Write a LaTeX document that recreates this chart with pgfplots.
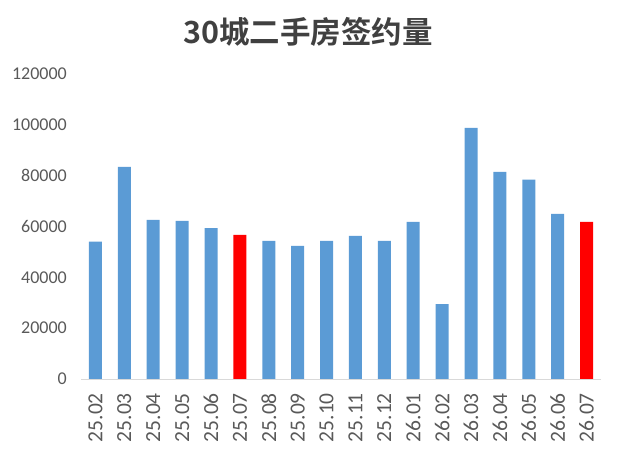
\documentclass[border=0pt]{standalone}
\usepackage{pgfplots}
\pgfplotsset{compat=1.18}
\usepackage{fontspec}
\setmainfont{Carlito}
\newfontfamily\cjk{Noto Sans CJK SC}[BoldFont={Noto Sans CJK SC Bold}]
\definecolor{barblue}{HTML}{5B9BD5}
\definecolor{barred}{HTML}{FF0000}
\definecolor{txtgray}{HTML}{595959}
\definecolor{titlegray}{HTML}{404040}
\definecolor{axgray}{HTML}{D9D9D9}
\begin{document}
\begin{tikzpicture}
\useasboundingbox (0,0) rectangle (618bp,473bp);
\node[font=\cjk\bfseries\fontsize{30.5bp}{32bp}\selectfont, text=titlegray] at (308bp,441bp) {30城二手房签约量};
\begin{axis}[
  at={(81bp,94bp)}, anchor=south west,
  scale only axis, width=520bp, height=305bp,
  xmin=-0.5, xmax=17.5, ymin=0, ymax=120000,
  axis x line*=bottom, axis y line*=left,
  x axis line style={draw=axgray, line width=1pt, -},
  y axis line style={draw=none},
  major tick length=0pt,
  xtick={0,...,17},
  xticklabels={25.02,25.03,25.04,25.05,25.06,25.07,25.08,25.09,25.10,25.11,25.12,26.01,26.02,26.03,26.04,26.05,26.06,26.07},
  x tick label style={rotate=90, anchor=east, font=\fontsize{21.5bp}{23bp}\selectfont, text=txtgray, inner sep=0pt},
  xticklabel shift=14bp,
  ytick={0,20000,40000,60000,80000,100000,120000},
  y tick label style={font=\fontsize{18bp}{20bp}\selectfont, text=txtgray, inner sep=0pt},
  yticklabel shift=14bp,
  scaled y ticks=false,
  /pgf/number format/fixed,
  /pgf/number format/precision=0,
  /pgf/number format/1000 sep={},
  /pgf/number format/assume math mode=true,
  ybar, bar width=13bp, bar shift=0pt,
  clip=false,
]
\addplot[fill=barblue, draw=none] coordinates {
(0,54000) (1,83500) (2,62600) (3,62200) (4,59400) (6,54300) (7,52400) (8,54300) (9,56300) (10,54300) (11,61800) (12,29500) (13,98800) (14,81500) (15,78400) (16,65000)
};
\addplot[fill=barred, draw=none] coordinates {
(5,56700) (17,61800)
};
\end{axis}
\end{tikzpicture}
\end{document}
